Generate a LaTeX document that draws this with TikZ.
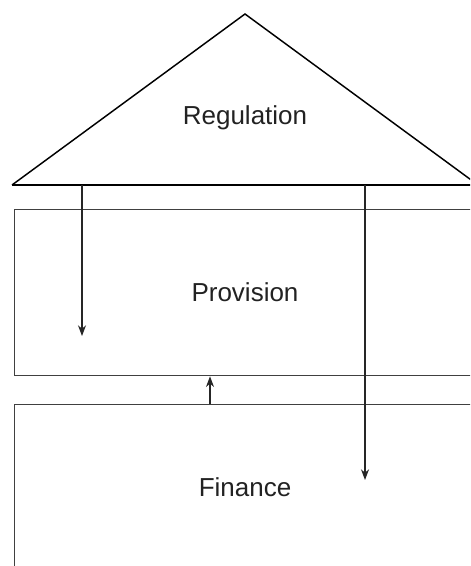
\documentclass[tikz,border=0pt]{standalone}
\usepackage{fontspec}
\setmainfont{Liberation Sans}
\usetikzlibrary{arrows.meta}
\definecolor{ink}{HTML}{222222}
\definecolor{edge}{HTML}{404040}
\tikzset{
  layer/.style={draw=edge, line width=1pt, inner sep=0pt, anchor=north west},
  roofline/.style={draw=black, line width=1.1pt, line join=miter},
  flow/.style={draw=black!85, line width=0.9pt, -{Stealth[length=8pt,width=6pt,inset=2.5pt]}},
  caption/.style={text=ink, font=\fontsize{19.5}{22}\selectfont, anchor=base, inner sep=0pt},
}
\begin{document}
\begin{tikzpicture}[x=0.75pt, y=-0.75pt]
  \useasboundingbox (0,0) rectangle (470,566);
  \clip (0,0) rectangle (470,566);

  % roof
  \coordinate (apex) at (245,14);
  \coordinate (baseL) at (12,185);
  \coordinate (baseR) at (478,185);
  \draw[roofline] (baseL) -- (apex) -- (baseR);
  \draw[black, line width=1.7pt] (baseL) -- (baseR);

  % storeys
  \node[layer, minimum width=382.5pt, minimum height=124.5pt] (prov) at (14,209) {};
  \node[layer, minimum width=382.5pt, minimum height=150pt] (fin) at (14,404) {};

  % labels
  \node[caption] (lreg) at (245,125) {Regulation};
  \node[caption] (lprov) at (245,301) {Provision};
  \node[caption] (lfin) at (245,496) {Finance};

  % connectors
  \coordinate (r1) at (82,185);
  \coordinate (e1) at (82,336);
  \coordinate (r2) at (365,185);
  \coordinate (e2) at (365,480);
  \draw[flow] (r1) -- (e1);
  \draw[flow] (r2) -- (e2);
  \draw[flow] (fin.north west -| 210,0) -- (prov.south west -| 210,0);
\end{tikzpicture}
\end{document}
